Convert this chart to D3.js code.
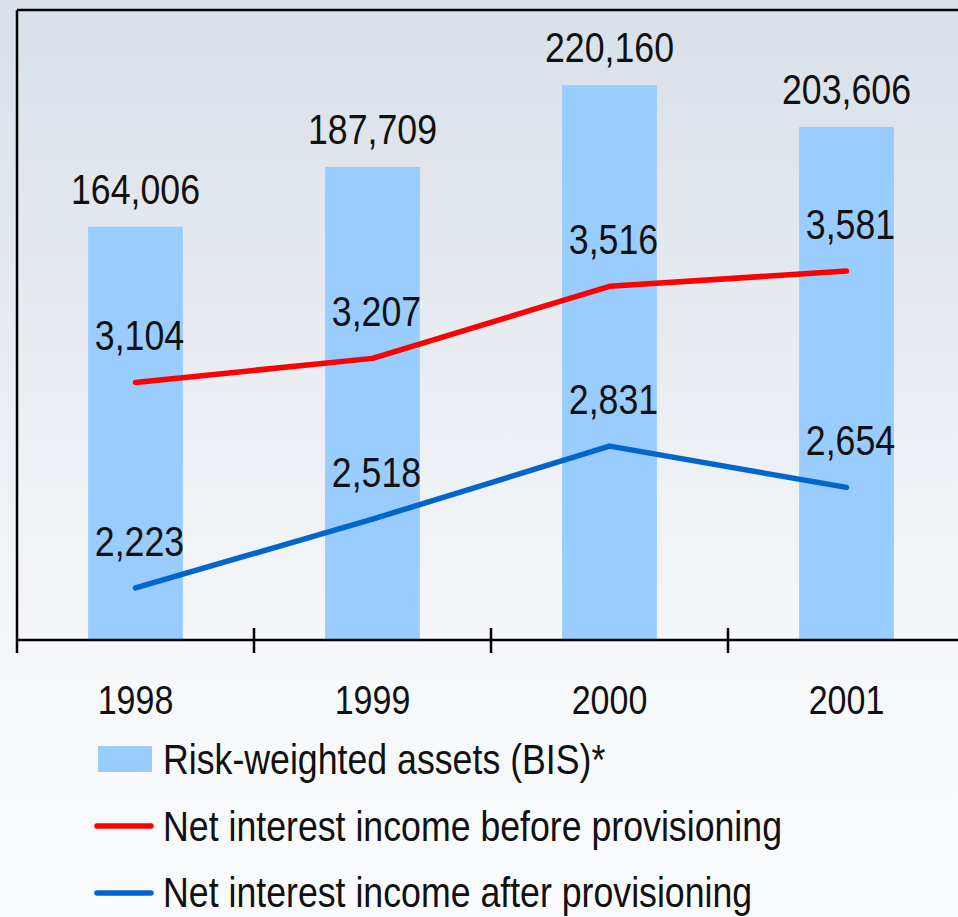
<!DOCTYPE html>
<html lang="en">
<head>
  <meta charset="UTF-8">
  <title>Risk-weighted assets and net interest income</title>
  <script src="https://d3js.org/d3.v7.min.js"></script>
  <style>
    body { margin: 0; font-family: "Liberation Sans", Arial, sans-serif; }
    svg { display: block; }
    .val { font-size: 42px; fill: #111; text-anchor: middle; }
    .tick-label { font-size: 40px; fill: #111; text-anchor: middle; }
    .legend { font-size: 42px; fill: #111; }
  </style>
</head>
<body>
  <svg width="958" height="917"></svg>

  <script>
    const years = ["1998", "1999", "2000", "2001"];
    const assets = [164006, 187709, 220160, 203606];
    const beforeProv = [3104, 3207, 3516, 3581];
    const afterProv = [2223, 2518, 2831, 2654];
    const legendLabels = [
      "Risk-weighted assets (BIS)*",
      "Net interest income before provisioning",
      "Net interest income after provisioning"
    ];

    const svg = d3.select("svg"),
          W = 958,
          pLeft = 17, pTop = 10, pBottom = 640, pRight = 958,
          narrow = 0.85; // condensed look

    const at = (px, py) => `translate(${px},${py}) scale(${narrow},1)`;

    const defs = svg.append("defs");
    const grad = defs.append("linearGradient")
      .attr("id", "bg").attr("x1", 0).attr("y1", 0).attr("x2", 0).attr("y2", 1);
    grad.append("stop").attr("offset", "0%").attr("stop-color", "#d9e0e8");
    grad.append("stop").attr("offset", "75%").attr("stop-color", "#f7f8fa");
    grad.append("stop").attr("offset", "100%").attr("stop-color", "#fafbfc");

    svg.append("rect").attr("width", W).attr("height", 917).attr("fill", "url(#bg)");

    const x = d3.scaleBand()
      .domain(years)
      .range([pLeft, pLeft + 948])
      .paddingInner(0.6)
      .paddingOuter(0.3);
    const step = x.step();
    const cx = d => x(d) + x.bandwidth() / 2;

    const yBar = d3.scaleLinear().domain([0, 250000]).range([pBottom, pTop]);
    const yLine = d3.scaleLinear().domain([2000, 4700]).range([pBottom, pTop]);

    // bars
    svg.selectAll(".bar")
      .data(years)
      .enter().append("rect")
      .attr("x", d => x(d))
      .attr("y", (d, i) => yBar(assets[i]))
      .attr("width", x.bandwidth())
      .attr("height", (d, i) => pBottom - yBar(assets[i]))
      .attr("fill", "#99ccff");

    svg.selectAll(".bar-label")
      .data(years)
      .enter().append("text")
      .attr("class", "val")
      .attr("transform", (d, i) => at(cx(d), yBar(assets[i]) - 23))
      .text((d, i) => d3.format(",")(assets[i]));

    // frame
    svg.append("line").attr("x1", pLeft).attr("x2", pRight).attr("y1", pTop).attr("y2", pTop)
      .attr("stroke", "#000").attr("stroke-width", 2.5);
    svg.append("line").attr("x1", pLeft).attr("x2", pLeft).attr("y1", pTop).attr("y2", pBottom + 13)
      .attr("stroke", "#000").attr("stroke-width", 2.5);
    svg.append("line").attr("x1", pLeft).attr("x2", pRight).attr("y1", pBottom).attr("y2", pBottom)
      .attr("stroke", "#000").attr("stroke-width", 2.5);

    // band boundary ticks
    svg.selectAll(".tk")
      .data(years.slice(1))
      .enter().append("line")
      .attr("x1", d => x(d) - step * 0.3)
      .attr("x2", d => x(d) - step * 0.3)
      .attr("y1", pBottom - 12).attr("y2", pBottom + 13)
      .attr("stroke", "#000").attr("stroke-width", 2.5);

    svg.selectAll(".tick-label")
      .data(years)
      .enter().append("text")
      .attr("class", "tick-label")
      .attr("transform", d => at(cx(d), 714))
      .text(d => d);

    // lines
    const series = [
      { vals: beforeProv, color: "#ff0000" },
      { vals: afterProv, color: "#0066cc" }
    ];
    const line = d3.line().x(d => cx(d.year)).y(d => yLine(d.v));

    series.forEach(s => {
      const pts = years.map((y, i) => ({ year: y, v: s.vals[i] }));
      svg.append("path")
        .datum(pts)
        .attr("fill", "none")
        .attr("stroke", s.color)
        .attr("stroke-width", 5.5)
        .attr("stroke-linecap", "round")
        .attr("stroke-linejoin", "round")
        .attr("d", line);
      svg.selectAll(null)
        .data(pts)
        .enter().append("text")
        .attr("class", "val")
        .attr("transform", d => at(cx(d.year) + 4, yLine(d.v) - 32))
        .text(d => d3.format(",")(d.v));
    });

    // legend
    svg.append("rect").attr("x", 98).attr("y", 746).attr("width", 54).attr("height", 26).attr("fill", "#99ccff");
    svg.append("line").attr("x1", 97).attr("x2", 151).attr("y1", 826).attr("y2", 826)
      .attr("stroke", "#ff0000").attr("stroke-width", 5.5).attr("stroke-linecap", "round");
    svg.append("line").attr("x1", 97).attr("x2", 151).attr("y1", 893).attr("y2", 893)
      .attr("stroke", "#0066cc").attr("stroke-width", 5.5).attr("stroke-linecap", "round");

    [774, 841, 907].forEach((yy, i) => {
      svg.append("text").attr("class", "legend")
        .attr("transform", at(163, yy))
        .text(legendLabels[i]);
    });
  </script>
</body>
</html>
